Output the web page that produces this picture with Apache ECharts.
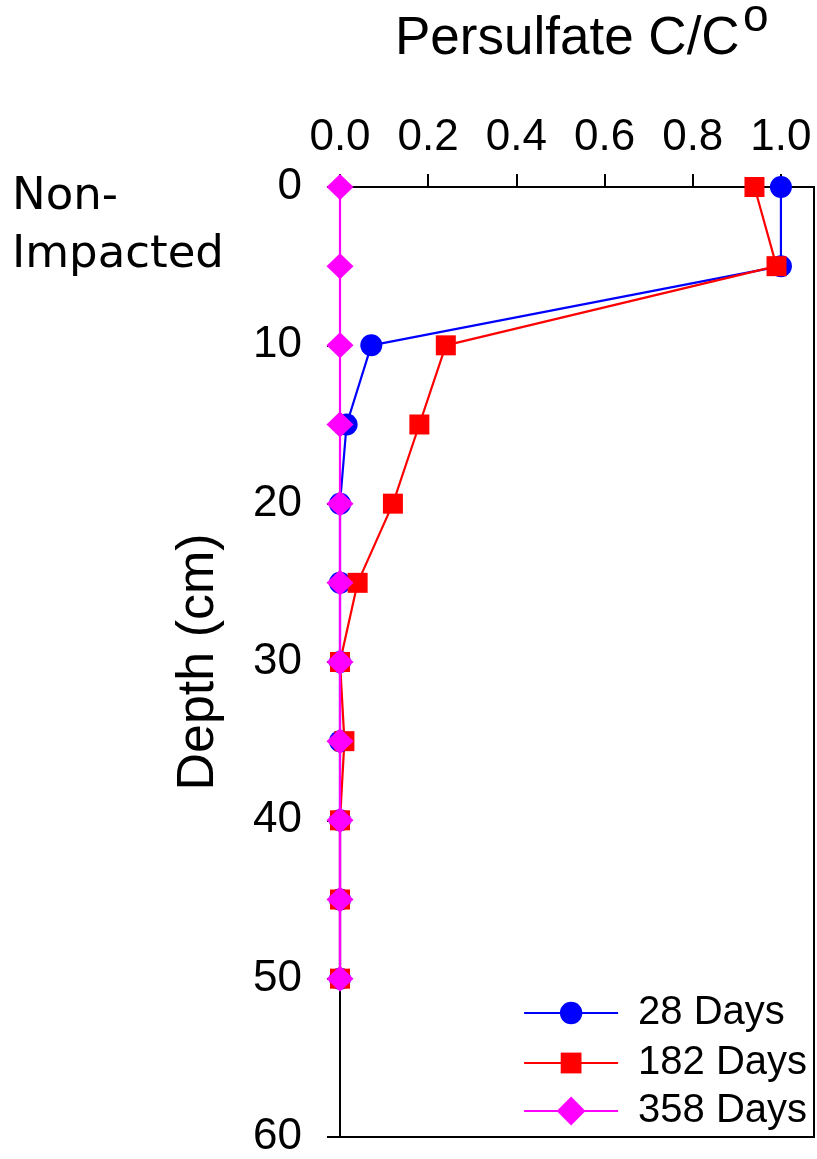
<!DOCTYPE html>
<html>
<head>
<meta charset="utf-8">
<script src="https://cdn.jsdelivr.net/npm/echarts@6/dist/echarts.min.js"></script>
<style>html,body{margin:0;padding:0;background:#fff;}#c{width:817px;height:1159px;}</style>
</head>
<body>
<div id="c"></div>
<script>
const depths = [0, 5, 10, 15, 20, 25, 30, 35, 40, 45, 50];
const days28 = [1.0, 1.0, 0.071, 0.015, 0.0, 0.0, 0.0, 0.0, 0.0, 0.0, 0.0];
const days182 = [0.94, 0.99, 0.24, 0.18, 0.12, 0.04, 0.0, 0.01, 0.0, 0.0, 0.0];
const days358 = [0, 0, 0, 0, 0, 0, 0, 0, 0, 0, 0];
const seriesNames = ['28 Days', '182 Days', '358 Days'];
const xTicks = [0, 0.2, 0.4, 0.6, 0.8, 1.0];
const yTicks = [0, 10, 20, 30, 40, 50, 60];

const FONT = 'Liberation Sans, Arial, sans-serif';
const pairs = arr => arr.map((v, i) => [v, depths[i]]);

const chart = echarts.init(document.getElementById('c'), null, {renderer: 'canvas'});
const mk = (name, data, color, symbol, size) => ({
  name, type: 'line', data: pairs(data), symbol, symbolSize: size,
  lineStyle: {color, width: 2.2}, itemStyle: {color},
  emphasis: {disabled: true}, animation: false
});
const lg = (name, top, ih) => ({
  orient: 'vertical', left: 518, top,
  itemWidth: 94, itemHeight: ih,
  data: [name],
  lineStyle: {width: 2.2},
  textStyle: {fontFamily: FONT, fontSize: 40, color: '#000', padding: [0, 0, 0, 15]},
  selectedMode: false
});
chart.setOption({
  animation: false,
  backgroundColor: '#fff',
  grid: {left: 340, top: 187, right: 3, bottom: 19, show: true, borderColor: '#000', borderWidth: 2, containLabel: false},
  xAxis: {
    type: 'value', position: 'top', min: 0, max: 1.075,
    splitLine: {show: false},
    axisLine: {show: true, lineStyle: {color: '#000', width: 2}},
    axisTick: {show: true, inside: false, length: 13, customValues: xTicks, lineStyle: {color: '#000', width: 2}},
    axisLabel: {customValues: xTicks, margin: 27, fontFamily: FONT, fontSize: 44, color: '#000', formatter: v => v.toFixed(1)}
  },
  yAxis: {
    type: 'value', inverse: true, min: 0, max: 60, interval: 10,
    name: 'Depth (cm)', nameLocation: 'middle', nameGap: 115, nameRotate: 90,
    nameTextStyle: {fontFamily: FONT, fontSize: 52, color: '#000'},
    splitLine: {show: false},
    axisLine: {show: true, lineStyle: {color: '#000', width: 2}},
    axisTick: {show: true, inside: false, length: 13, customValues: yTicks, lineStyle: {color: '#000', width: 2}},
    axisLabel: {customValues: yTicks, margin: 38, fontFamily: FONT, fontSize: 44, color: '#000'}
  },
  legend: [
    lg(seriesNames[0], 988, 28),
    lg(seriesNames[1], 1038, 26),
    lg(seriesNames[2], 1086, 36)
  ],
  graphic: [
    {type: 'text', x: 395, y: 39,
     style: {text: 'Persulfate C/C', fontFamily: FONT, fontSize: 53, fill: '#000', align: 'left', verticalAlign: 'middle'}},
    {type: 'text', x: 743, y: 18,
     style: {text: 'o', fontFamily: FONT, fontSize: 46, fill: '#000', align: 'left', verticalAlign: 'middle'}},
    {type: 'text', left: 12, top: 168,
     style: {text: 'Non-\nImpacted', fontFamily: 'DejaVu Sans', fontSize: 45, lineHeight: 58, fill: '#000'}}
  ],
  series: [
    mk(seriesNames[0], days28, '#0000ff', 'circle', 22),
    mk(seriesNames[1], days182, '#ff0000', 'rect', 20),
    mk(seriesNames[2], days358, '#ff00ff', 'diamond', [27, 26])
  ]
});
</script>
</body>
</html>
